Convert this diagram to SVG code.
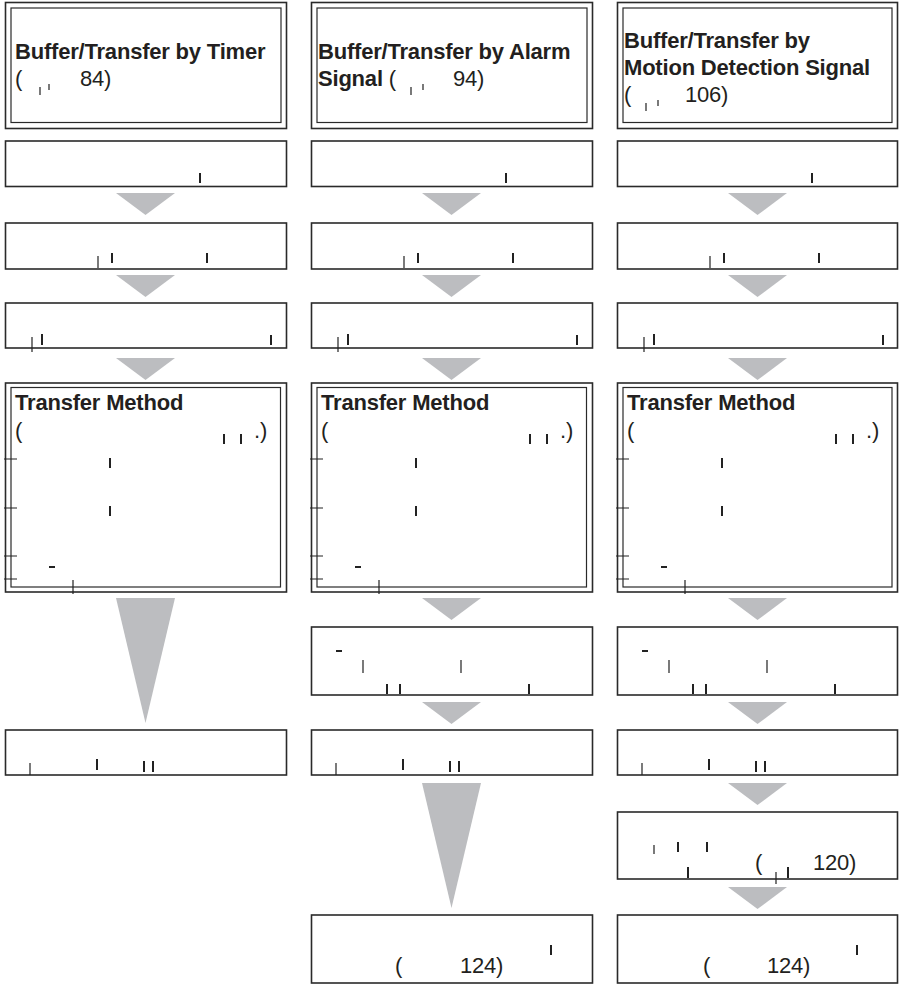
<svg xmlns="http://www.w3.org/2000/svg" width="900" height="985" viewBox="0 0 900 985">
<style>
.box{fill:#fff;stroke:#2a2a2a;stroke-width:1.6}
.inner{fill:none;stroke:#2a2a2a;stroke-width:1.2}
.arr{fill:#bcbdc0}
.t{font-family:"Liberation Sans",Arial,sans-serif;font-size:22px;letter-spacing:-0.2px;fill:#231f20}
.b{font-weight:bold}
.m{stroke:#222;stroke-width:2;fill:none}
.mt{stroke:#222;stroke-width:1.2;fill:none}
</style>
<rect width="900" height="985" fill="#fff"/>
<g id="connectors">
<polygon class="arr" points="116,193 175,193 145.5,215"/>
<polygon class="arr" points="116,275 175,275 145.5,297"/>
<polygon class="arr" points="116,358 175,358 145.5,380"/>
<polygon class="arr" points="116,598 175,598 145.5,723"/>
<polygon class="arr" points="422,193 481,193 451.5,215"/>
<polygon class="arr" points="422,275 481,275 451.5,297"/>
<polygon class="arr" points="422,358 481,358 451.5,380"/>
<polygon class="arr" points="422,598 481,598 451.5,620"/>
<polygon class="arr" points="422,702 481,702 451.5,724"/>
<polygon class="arr" points="422,783 481,783 451.5,908"/>
<polygon class="arr" points="728,193 787,193 757.5,215"/>
<polygon class="arr" points="728,275 787,275 757.5,297"/>
<polygon class="arr" points="728,358 787,358 757.5,380"/>
<polygon class="arr" points="728,598 787,598 757.5,620"/>
<polygon class="arr" points="728,702 787,702 757.5,724"/>
<polygon class="arr" points="728,783 787,783 757.5,805"/>
<polygon class="arr" points="728,887 787,887 757.5,909"/>
</g>

<g id="c1-title">
<rect class="box" x="5.5" y="2.5" width="281" height="126"/>
<rect class="inner" x="11" y="8" width="270" height="114.5"/>
<text class="t b" x="15" y="59">Buffer/Transfer by Timer</text>
<text class="t" x="15" y="86">(</text>
<text class="t" x="80" y="86">84)</text>
<path class="mt" d="M40 87v8M49 84v6"/>
</g>
<g id="c1-step1">
<rect class="box" x="5.5" y="141" width="281" height="45.5"/>
<path class="m" d="M200 173v10"/>
</g>
<g id="c1-step2">
<rect class="box" x="5.5" y="223" width="281" height="46"/>
<path class="m" d="M112 253v10M207 253v10"/><path class="mt" d="M98 256v12"/>
</g>
<g id="c1-step3">
<rect class="box" x="5.5" y="303" width="281" height="45"/>
<path class="m" d="M42 334v11M271 335v10"/><path class="mt" d="M32 337v15"/>
</g>
<g id="c1-method">
<rect class="box" x="5.5" y="383" width="281" height="209"/>
<rect class="inner" x="11" y="387.5" width="269.5" height="199.5"/>
<text class="t b" x="15" y="410">Transfer Method</text>
<text class="t" x="15" y="438">(</text>
<text class="t" x="254" y="438">.)</text>
<path class="m" d="M224 434v10M241 434v10M110 458v10M110 506v10"/>
<path class="mt" d="M4 459h13M4 508h13M4 556h13M4 579h13M73 580v14"/>
<path class="m" d="M49 567h6"/>
</g>
<g id="c1-final">
<rect class="box" x="5.5" y="730" width="281" height="45"/>
<path class="m" d="M97 759v11M144 761v11M153 761v11"/><path class="mt" d="M30 763v12"/>
</g>

<g id="c2-title">
<rect class="box" x="311.5" y="2.5" width="281" height="126"/>
<rect class="inner" x="317" y="8" width="270" height="114.5"/>
<text class="t b" x="318" y="59">Buffer/Transfer by Alarm</text>
<text class="t" x="318" y="86"><tspan class="b">Signal</tspan> (</text>
<text class="t" x="453" y="86">94)</text>
<path class="mt" d="M411 87v8M423 84v6"/>
</g>
<g id="c2-step1">
<rect class="box" x="311.5" y="141" width="281" height="45.5"/>
<path class="m" d="M506 173v10"/>
</g>
<g id="c2-step2">
<rect class="box" x="311.5" y="223" width="281" height="46"/>
<path class="m" d="M418 253v10M513 253v10"/><path class="mt" d="M404 256v12"/>
</g>
<g id="c2-step3">
<rect class="box" x="311.5" y="303" width="281" height="45"/>
<path class="m" d="M348 334v11M577 335v10"/><path class="mt" d="M338 337v15"/>
</g>
<g id="c2-method">
<rect class="box" x="311.5" y="383" width="281" height="209"/>
<rect class="inner" x="317" y="387.5" width="269.5" height="199.5"/>
<text class="t b" x="321" y="410">Transfer Method</text>
<text class="t" x="321" y="438">(</text>
<text class="t" x="560" y="438">.)</text>
<path class="m" d="M530 434v10M547 434v10M416 458v10M416 506v10"/>
<path class="mt" d="M310 459h13M310 508h13M310 556h13M310 579h13M379 580v14"/>
<path class="m" d="M355 567h6"/>
</g>
<g id="c2-step4">
<rect class="box" x="311.5" y="627" width="281" height="68"/>
<path class="m" d="M336 651h6M387 684v10M400 684v10M529 684v10"/>
<path class="mt" d="M363 660v13M461 660v13"/>
</g>
<g id="c2-step5">
<rect class="box" x="311.5" y="730" width="281" height="45"/>
<path class="m" d="M403 759v11M450 761v11M459 761v11"/><path class="mt" d="M336 763v12"/>
</g>
<g id="c2-final">
<rect class="box" x="311.5" y="915" width="281" height="68"/>
<text class="t" x="395" y="973">(</text>
<text class="t" x="460" y="973">124)</text>
<path class="m" d="M551 945v10"/>
</g>

<g id="c3-title">
<rect class="box" x="617.5" y="2.5" width="280" height="126"/>
<rect class="inner" x="623" y="8" width="269" height="114.5"/>
<text class="t b" x="624" y="48">Buffer/Transfer by</text>
<text class="t b" x="624" y="75">Motion Detection Signal</text>
<text class="t" x="624" y="102">(</text>
<text class="t" x="685" y="102">106)</text>
<path class="mt" d="M646 103v8M658 100v6"/>
</g>
<g id="c3-step1">
<rect class="box" x="617.5" y="141" width="280" height="45.5"/>
<path class="m" d="M812 173v10"/>
</g>
<g id="c3-step2">
<rect class="box" x="617.5" y="223" width="280" height="46"/>
<path class="m" d="M724 253v10M819 253v10"/><path class="mt" d="M710 256v12"/>
</g>
<g id="c3-step3">
<rect class="box" x="617.5" y="303" width="280" height="45"/>
<path class="m" d="M654 334v11M883 335v10"/><path class="mt" d="M644 337v15"/>
</g>
<g id="c3-method">
<rect class="box" x="617.5" y="383" width="280" height="209"/>
<rect class="inner" x="623" y="387.5" width="269" height="199.5"/>
<text class="t b" x="627" y="410">Transfer Method</text>
<text class="t" x="627" y="438">(</text>
<text class="t" x="866" y="438">.)</text>
<path class="m" d="M836 434v10M853 434v10M722 458v10M722 506v10"/>
<path class="mt" d="M616 459h13M616 508h13M616 556h13M616 579h13M685 580v14"/>
<path class="m" d="M661 567h6"/>
</g>
<g id="c3-step4">
<rect class="box" x="617.5" y="627" width="280" height="68"/>
<path class="m" d="M642 651h6M693 684v10M706 684v10M835 684v10"/>
<path class="mt" d="M669 660v13M767 660v13"/>
</g>
<g id="c3-step5">
<rect class="box" x="617.5" y="730" width="280" height="45"/>
<path class="m" d="M709 759v11M756 761v11M765 761v11"/><path class="mt" d="M642 763v12"/>
</g>
<g id="c3-step6">
<rect class="box" x="617.5" y="812" width="280" height="67"/>
<text class="t" x="755" y="870">(</text>
<text class="t" x="813" y="870">120)</text>
<path class="m" d="M678 842v10M707 842v10M688 867v11M788 867v11"/>
<path class="mt" d="M654 845v9M776 872v12"/>
</g>
<g id="c3-final">
<rect class="box" x="617.5" y="915" width="280" height="68"/>
<text class="t" x="703" y="973">(</text>
<text class="t" x="767" y="973">124)</text>
<path class="m" d="M857 945v10"/>
</g>
</svg>
